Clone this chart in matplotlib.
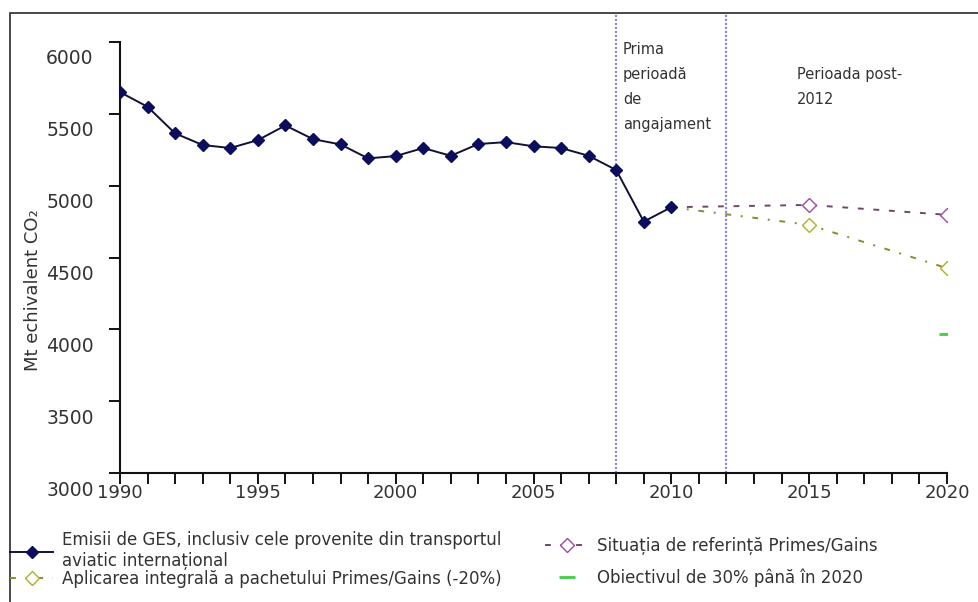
import matplotlib
matplotlib.use("Agg")
import matplotlib.pyplot as plt
import matplotlib.transforms as mtransforms
from matplotlib.patches import Rectangle

# ---- data ----
years = list(range(1990, 2011))
emissions = [5651, 5549, 5364, 5283, 5262, 5317, 5419, 5324, 5287, 5190,
             5206, 5262, 5208, 5290, 5303, 5274, 5262, 5208, 5109, 4750, 4850]
proj_years = [2010, 2015, 2020]
reference = [4850, 4866, 4797]
full_package = [4850, 4727, 4426]
target_year = [2020]
target_30 = [3968]
period_lines = [2008, 2012]
yticks = [3000, 3500, 4000, 4500, 5000, 5500, 6000]
xticks = [1990, 1995, 2000, 2005, 2010, 2015, 2020]

lbl_main = "Emisii de GES, inclusiv cele provenite din transportul\naviatic internațional"
lbl_ref = "Situația de referință Primes/Gains"
lbl_pkg = "Aplicarea integrală a pachetului Primes/Gains (-20%)"
lbl_tgt = "Obiectivul de 30% până în 2020"

W, H = 979, 602
fig = plt.figure(figsize=(W / 100, H / 100), dpi=100)
ax = fig.add_axes([120 / W, 1 - 473 / H, (947 - 120) / W, (473 - 42) / H])

# outer frame
fig.patches.append(Rectangle((10 / W, -0.05), 1.2, 1 - 13 / H + 0.05,
                             transform=fig.transFigure, fill=False,
                             edgecolor="#3a3a3a", linewidth=1.3, clip_on=False))

for x in period_lines:
    ax.axvline(x, ymin=0, ymax=1 + 28 / 431, color="#8c8cd0", linestyle=(0, (1, 0.8)),
               linewidth=1.6, clip_on=False, zorder=1)

h_main, = ax.plot(years, emissions, color="#111133", linewidth=1.4,
                  marker="D", markersize=6, markerfacecolor="#0d0d5e",
                  markeredgecolor="#0d0d5e", zorder=4, label=lbl_main)
h_ref, = ax.plot(proj_years, reference, color="#6a4a6a", linewidth=1.4,
                 linestyle=(0, (3, 5)), marker="D", markersize=7, markevery=[1, 2],
                 markerfacecolor="white", markeredgecolor="#a04aa0", zorder=3,
                 label=lbl_ref)
h_pkg, = ax.plot(proj_years, full_package, color="#8a8a30", linewidth=1.4,
                 linestyle=(0, (3, 5, 1, 5)), marker="D", markersize=7, markevery=[1, 2],
                 markerfacecolor="white", markeredgecolor="#b0b020", zorder=3,
                 label=lbl_pkg)
h_tgt, = ax.plot(target_year, target_30, linestyle="none", marker="_",
                 markersize=11, markeredgewidth=2, color="#44cc44", zorder=3,
                 label=lbl_tgt)

ax.set_xlim(1990, 2020)
ax.set_ylim(3000, 6000)
ax.set_xticks(xticks)
ax.set_xticks(range(1990, 2021), minor=True)
ax.set_yticks(yticks)
ax.spines["top"].set_visible(False)
ax.spines["right"].set_visible(False)
for s in ("left", "bottom"):
    ax.spines[s].set_linewidth(1.5)
    ax.spines[s].set_color("#111111")
ax.tick_params(axis="x", which="both", direction="out", length=8, width=1.4,
               labelsize=13, pad=0, colors="#111111")
ax.tick_params(axis="y", direction="out", length=8, width=1.4, labelsize=13.5,
               pad=11, colors="#111111")
for lab in ax.get_xticklabels() + ax.get_yticklabels():
    lab.set_color("#333333")
off = mtransforms.ScaledTranslation(0, -0.15, fig.dpi_scale_trans)
for lab in ax.get_yticklabels():
    lab.set_transform(lab.get_transform() + off)

fig.text(33 / W, 1 - 290 / H, "Mt echivalent CO₂", rotation=90, ha="center",
         va="center", fontsize=13, color="#333333")

fig.text(623 / W, 1 - 42 / H, "Prima\nperioadă\nde\nangajament",
         fontsize=10.5, color="#333333", va="top", ha="left", linespacing=1.82)
fig.text(797 / W, 1 - 67 / H, "Perioada post-\n2012", fontsize=10.5,
         color="#333333", va="top", ha="left", linespacing=1.82)

common = dict(frameon=False, fontsize=12, handlelength=2.6, handletextpad=0.5,
              borderpad=0.1, loc="upper left")
leg1 = fig.legend(handles=[h_main, h_pkg], bbox_to_anchor=(0 / W, 1 - 521 / H),
                  labelspacing=0.0, **common)
leg2 = fig.legend(handles=[h_ref, h_tgt], bbox_to_anchor=(535 / W, 1 - 527 / H),
                  labelspacing=0.8, **common)
for lg in (leg1, leg2):
    for t in lg.get_texts():
        t.set_color("#333333")

fig.savefig("out.png", dpi=100)
